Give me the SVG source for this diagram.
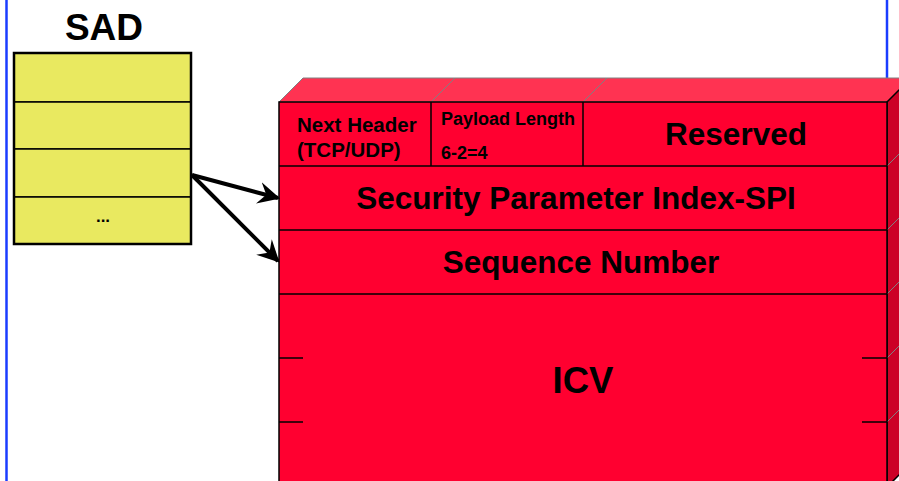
<svg xmlns="http://www.w3.org/2000/svg" width="899" height="481" viewBox="0 0 899 481">
  <defs>
    <marker id="arrowhead" viewBox="0 0 10 10" refX="9" refY="5" markerWidth="5.5" markerHeight="5.5" markerUnits="strokeWidth" orient="auto">
      <path d="M0,0 L10,5 L0,10 L3.5,5 Z" fill="#000"/>
    </marker>
    <style>
      .frame { stroke: #1a3cff; stroke-width: 2.5; fill: none; }
      .sad-cell { fill: #e9e960; stroke: #000; stroke-width: 1.5; }
      .sad-outline { fill: none; stroke: #000; stroke-width: 2.5; }
      .front { fill: #ff0030; stroke: #000; stroke-width: 1.5; }
      .top { fill: #ff3352; stroke: #808080; stroke-width: 1; }
      .side { fill: #cc0026; stroke: #000; stroke-width: 1.5; }
      .edge { stroke: #808080; stroke-width: 1; fill: none; }
      .rule { stroke: #000; stroke-width: 1.5; fill: none; }
      .lbl { font-family: "Liberation Sans", Arial, sans-serif; font-weight: bold; fill: #000; }
      .arrow { stroke: #000; stroke-width: 4; fill: none; marker-end: url(#arrowhead); }
    </style>
  </defs>

  <!-- page frame -->
  <line class="frame" x1="6.5" y1="0" x2="6.5" y2="481"/>
  <line class="frame" x1="887" y1="0" x2="887" y2="80"/>

  <!-- SAD table -->
  <g id="sad">
    <text class="lbl" x="104" y="40" font-size="37" text-anchor="middle">SAD</text>
    <rect class="sad-cell" x="14" y="53" width="177" height="49"/>
    <rect class="sad-cell" x="14" y="102" width="177" height="47"/>
    <rect class="sad-cell" x="14" y="149" width="177" height="48"/>
    <rect class="sad-cell" x="14" y="197" width="177" height="47"/>
    <rect class="sad-outline" x="14" y="53" width="177" height="191"/>
    <text class="lbl" x="103" y="222" font-size="17" text-anchor="middle">...</text>
  </g>

  <!-- AH header block (3D box) -->
  <g id="ah-box">
    <polygon class="top" points="279,102 303,78 911,78 887,102"/>
    <line class="edge" x1="431" y1="102" x2="455" y2="78"/>
    <line class="edge" x1="583" y1="102" x2="607" y2="78"/>
    <polygon class="side" points="887,102 911,78 911,463 887,487"/>
    <line class="edge" x1="887" y1="166" x2="911" y2="142"/>
    <line class="edge" x1="887" y1="230" x2="911" y2="206"/>
    <line class="edge" x1="887" y1="294" x2="911" y2="270"/>
    <line class="edge" x1="887" y1="358" x2="911" y2="334"/>
    <line class="edge" x1="887" y1="422" x2="911" y2="398"/>
    <rect class="front" x="279" y="102" width="608" height="390"/>
  </g>

  <g id="field-next-header">
    <line class="rule" x1="279" y1="166" x2="887" y2="166"/>
    <text class="lbl" x="297" y="132" font-size="20.5">Next Header</text>
    <text class="lbl" x="297" y="157" font-size="20.5">(TCP/UDP)</text>
  </g>

  <g id="field-payload-length">
    <line class="rule" x1="431" y1="102" x2="431" y2="166"/>
    <text class="lbl" x="441" y="125" font-size="18">Payload Length</text>
    <text class="lbl" x="441" y="159" font-size="18">6-2=4</text>
  </g>

  <g id="field-reserved">
    <line class="rule" x1="583" y1="102" x2="583" y2="166"/>
    <text class="lbl" x="736" y="145" font-size="31.5" text-anchor="middle">Reserved</text>
  </g>

  <g id="field-spi">
    <line class="rule" x1="279" y1="230" x2="887" y2="230"/>
    <text class="lbl" x="576" y="209" font-size="31.5" text-anchor="middle">Security Parameter Index-SPI</text>
  </g>

  <g id="field-sequence">
    <line class="rule" x1="279" y1="294" x2="887" y2="294"/>
    <text class="lbl" x="581" y="273" font-size="31.5" text-anchor="middle">Sequence Number</text>
  </g>

  <g id="field-icv">
    <line class="rule" x1="279" y1="358" x2="303" y2="358"/>
    <line class="rule" x1="279" y1="422" x2="303" y2="422"/>
    <line class="rule" x1="862" y1="358" x2="887" y2="358"/>
    <line class="rule" x1="862" y1="422" x2="887" y2="422"/>
    <text class="lbl" x="583" y="393" font-size="36.5" text-anchor="middle">ICV</text>
  </g>

  <!-- connectors -->
  <g id="connectors">
    <line class="arrow" x1="192" y1="175" x2="278" y2="198"/>
    <line class="arrow" x1="192" y1="175" x2="278" y2="261"/>
  </g>
</svg>
